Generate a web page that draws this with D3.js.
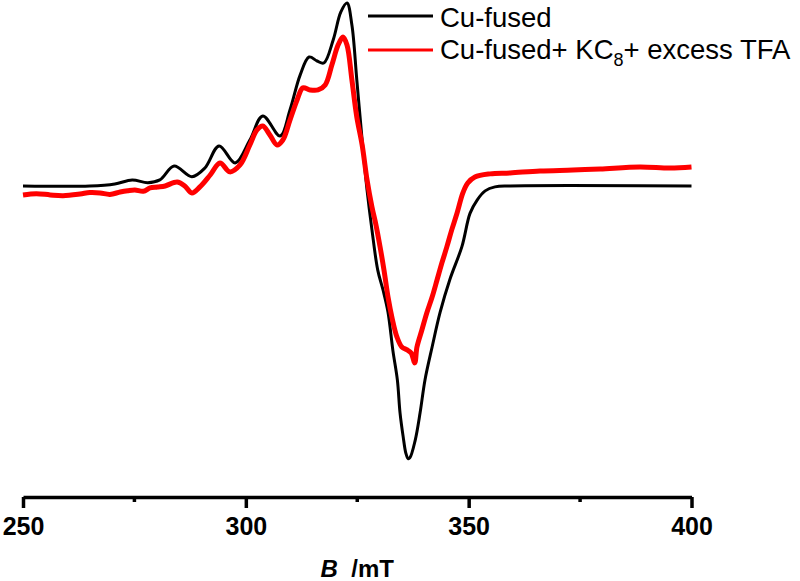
<!DOCTYPE html>
<html lang="en">

<head>
    <meta charset="UTF-8">
    <title>EPR spectra</title>
    <script src="https://d3js.org/d3.v7.min.js"></script>
    <style>
        body { margin: 0; background: #fff; }
        text { font-family: "Liberation Sans", Arial, sans-serif; }
    </style>
</head>

<body>
    <script>
        // field (mT) and intensity (a.u.)
        var blackB = [250, 265, 270.6, 274.5, 278.0, 280.7, 283.9, 287.9, 290.8, 294.0, 297.6, 300.9, 303.8,
            307.7, 309.9, 312.2, 314.2, 316.0, 317.5, 319.6, 321.3, 322.7, 323.8, 324.9, 326.1, 327.2,
            328.3, 329.6, 330.8, 331.9, 333.0, 334.0, 334.6, 335.3, 335.9, 336.4, 336.8, 338.0, 339.1,
            340.2, 341.8, 343.6, 345.8, 348.5, 350.3, 351.9, 353.7, 355.9, 359.3, 400];
        var blackI = [0, 0, 1.1, 3.3, 1.8, 3.3, 10.9, 5.1, 9.8, 21.9, 12.6, 25.1, 38.3,
            27.3, 41.5, 60.7, 70.5, 68.3, 67.2, 79.8, 95, 100, 88, 58, 25, -2.2,
            -24, -46, -57, -69, -90, -106, -124, -137, -146, -149, -148.6, -139, -124,
            -106, -88, -69, -51, -33, -15, -7.7, -2.7, -0.5, 0, 0];

        var redB = [250, 253, 256.1, 259, 262.8, 265, 267.3, 269.5, 271.8, 273.5, 275.1, 277, 278.5, 280.2, 281.9,
            284.6, 286.3, 287.9, 289.7, 292.0, 294.2, 296.4, 298.7, 300.9, 302.5, 303.8,
            305.4, 307.0, 308.3, 309.9, 311.5, 312.8, 314.4, 316.2, 317.8, 319.3, 320.7, 321.8,
            322.7, 323.8, 324.9, 326.1, 327.2, 328.3, 329.2, 330.1, 331.0, 331.9, 332.8, 333.9,
            335.0, 336.2, 337.1, 337.9, 338.4, 339.5, 340.6, 341.8, 342.9, 344.0, 345.1, 346.2,
            347.4, 348.7, 349.8, 351.4, 354.8, 359.3, 366.0, 373.4, 379.5, 388.4, 395.2, 400];
        var redI = [-4.9, -4.2, -4.9, -5.3, -4.4, -3.6, -3.8, -4.6, -3.3, -2.6, -2.2, -2.9, -1.1, -0.6, 0,
            2.2, 0, -3.8, -0.5, 6, 12.6, 7.7, 11.5, 22.4, 30.6, 32.8,
            27.9, 22.4, 25.1, 36, 47, 53.6, 52.5, 52.5, 55.2, 66.1, 77, 81.4,
            77, 58, 37.7, 22.4, 3.3, -11.5, -21.3, -33, -46, -60.7, -72, -82.5,
            -88, -89.6, -91.3, -96.7, -88, -78.7, -69.4, -60.7, -51.4, -42, -33.3, -24,
            -14.8, -3.8, 1.6, 4.9, 6.6, 7.1, 8.2, 8.7, 9.3, 10.4, 9.8, 10.4];

        var majorTicks = [250, 300, 350, 400];
        var minorTicks = [275, 325, 375];

        var width = 800, height = 581;
        var plotLeft = 23, plotRight = 691.5, plotTop = 3, plotBottom = 497;

        var svg = d3.select("body")
            .append("svg")
            .attr("width", width)
            .attr("height", height);

        var x = d3.scaleLinear().domain([250, 400]).range([plotLeft, plotRight]);
        var y = d3.scaleLinear().domain([-170, 100]).range([plotBottom, plotTop]);

        var line = d3.line()
            .x(function (d) { return x(d[0]); })
            .y(function (d) { return y(d[1]); })
            .curve(d3.curveCatmullRom);

        var blackData = blackB.map(function (b, i) { return [b, blackI[i]]; });
        var redData = redB.map(function (b, i) { return [b, redI[i]]; });

        svg.append("path")
            .datum(blackData)
            .attr("d", line)
            .attr("fill", "none")
            .attr("stroke", "black")
            .attr("stroke-width", 3);

        svg.append("path")
            .datum(redData)
            .attr("d", line)
            .attr("fill", "none")
            .attr("stroke", "#ff0000")
            .attr("stroke-width", 5)
            .attr("stroke-linejoin", "round");

        // x axis
        var axis = svg.append("g").attr("transform", "translate(0," + plotBottom + ")");
        axis.call(d3.axisBottom(x).tickValues(majorTicks).tickSize(11).tickSizeOuter(0).tickFormat(d3.format("d")));
        axis.select(".domain").attr("stroke-width", 3.5);
        axis.selectAll(".tick line").attr("stroke-width", 3.5);
        axis.selectAll(".tick text")
            .attr("font-family", "'Liberation Sans', Arial, sans-serif")
            .attr("font-size", 25)
            .attr("font-weight", "bold")
            .attr("fill", "black")
            .attr("dy", null)
            .attr("y", 38);
        axis.selectAll(".minor")
            .data(minorTicks)
            .enter()
            .append("line")
            .attr("x1", function (d) { return x(d); })
            .attr("x2", function (d) { return x(d); })
            .attr("y1", 0)
            .attr("y2", 5)
            .attr("stroke", "black")
            .attr("stroke-width", 3.5);

        var title = svg.append("text")
            .attr("x", (plotLeft + plotRight) / 2)
            .attr("y", 577)
            .attr("text-anchor", "middle")
            .attr("font-size", 24)
            .attr("font-weight", "bold");
        title.append("tspan").attr("font-style", "italic").text("B");
        title.append("tspan").text("  /mT").attr("xml:space", "preserve");

        // legend
        var legend = svg.append("g");
        legend.append("line").attr("x1", 368).attr("x2", 433).attr("y1", 16).attr("y2", 16)
            .attr("stroke", "black").attr("stroke-width", 3);
        legend.append("text").attr("x", 440).attr("y", 27).attr("font-size", 27.5).text("Cu-fused");
        legend.append("line").attr("x1", 368).attr("x2", 433).attr("y1", 50).attr("y2", 50)
            .attr("stroke", "#ff0000").attr("stroke-width", 3);
        var t2 = legend.append("text").attr("x", 440).attr("y", 59).attr("font-size", 27.5);
        t2.append("tspan").text("Cu-fused+ KC");
        t2.append("tspan").attr("font-size", 18).attr("dy", 7).text("8");
        t2.append("tspan").attr("dy", -7).text("+ excess TFA");
    </script>
</body>

</html>
